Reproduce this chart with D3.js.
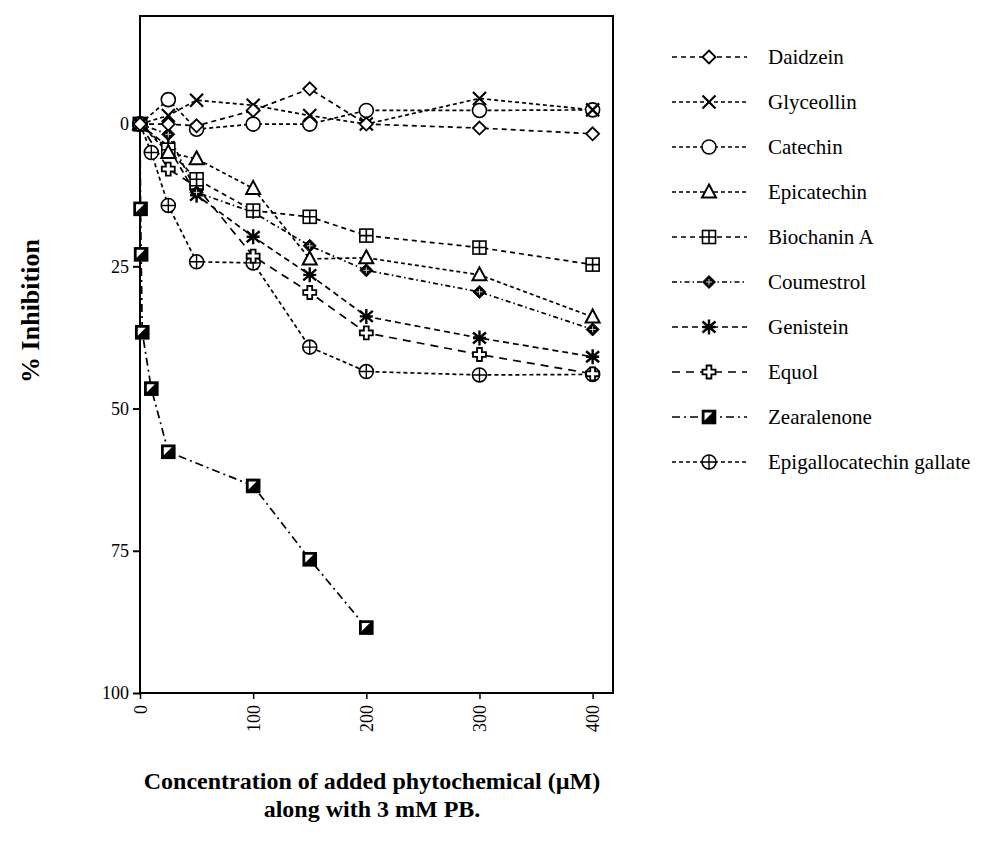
<!DOCTYPE html>
<html>
<head>
<meta charset="utf-8">
<script src="https://cdn.jsdelivr.net/npm/d3@7"></script>
<style>
  html, body { margin: 0; padding: 0; background: #fff; }
  svg { display: block; }
  text { font-family: "Liberation Serif", "Times New Roman", serif; fill: #000; }
</style>
</head>
<body>
<svg id="chart" width="1000" height="847"></svg>
<script>
// ---------- data ----------
const concentrations = [0, 25, 50, 100, 150, 200, 300, 400];
const daidzein    = [0, 0, 0.3, -2.4, -6.2, 0, 0.7, 1.7];
const glyceollin  = [0, -1.5, -4.2, -3.3, -1.5, 0, -4.5, -2.5];
const catechin    = [0, -4.3, 0.9, 0, 0, -2.4, -2.4, -2.5];
const epicatechin = [0, 5, 6.1, 11.3, 23.7, 23.5, 26.5, 33.9];
const biochaninA  = [0, 4.5, 9.7, 15.2, 16.3, 19.6, 21.7, 24.7];
const coumestrol  = [0, 1.8, 12, 15.5, 21.4, 25.7, 29.5, 36.1];
const genistein   = [0, 4, 12.5, 19.8, 26.5, 33.8, 37.6, 40.9];
const equol       = [0, 7.9, 11, 23.2, 29.6, 36.7, 40.5, 43.9];
const zearalenoneConc = [0, 0.5, 1, 2, 10, 25, 100, 150, 200];
const zearalenone     = [0, 14.9, 22.9, 36.6, 46.5, 57.6, 63.6, 76.5, 88.5];
const egcgConc = [0, 10, 25, 50, 100, 150, 200, 300, 400];
const egcg     = [0, 5, 14.3, 24.2, 24.4, 39.2, 43.5, 44.1, 44];

const seriesNames = ["Daidzein", "Glyceollin", "Catechin", "Epicatechin", "Biochanin A",
  "Coumestrol", "Genistein", "Equol", "Zearalenone", "Epigallocatechin gallate"];
const xTicks = [0, 100, 200, 300, 400];
const yTicks = [0, 25, 50, 75, 100];
const yTitle = "% Inhibition";
const xTitle1 = "Concentration of added phytochemical (\u00B5M)";
const xTitle2 = "along with 3 mM PB.";

// ---------- series definitions (style) ----------
const series = [
  { name: seriesNames[0], x: concentrations, y: daidzein,    marker: "diamond",  dash: "5,4" },
  { name: seriesNames[1], x: concentrations, y: glyceollin,  marker: "x",        dash: "4,3" },
  { name: seriesNames[2], x: concentrations, y: catechin,    marker: "circle",   dash: "4,3" },
  { name: seriesNames[3], x: concentrations, y: epicatechin, marker: "triangle", dash: "4,3" },
  { name: seriesNames[4], x: concentrations, y: biochaninA,  marker: "sqplus",   dash: "5,4" },
  { name: seriesNames[5], x: concentrations, y: coumestrol,  marker: "fdiamond", dash: "5,3,1.5,3" },
  { name: seriesNames[6], x: concentrations, y: genistein,   marker: "asterisk", dash: "6,4" },
  { name: seriesNames[7], x: concentrations, y: equol,       marker: "cross",    dash: "8,6" },
  { name: seriesNames[8], x: zearalenoneConc, y: zearalenone, marker: "halfsq", dash: "8,4,2,4" },
  { name: seriesNames[9], x: egcgConc, y: egcg,              marker: "cplus",    dash: "4,3" }
];

// ---------- layout ----------
const svg = d3.select("#chart");
const plot = { left: 140, right: 613, top: 16, bottom: 693 };
const x = d3.scaleLinear().domain([0, 418]).range([plot.left, plot.right]);
const y = d3.scaleLinear().domain([-19, 100]).range([plot.top, plot.bottom]);

// frame
svg.append("rect")
  .attr("x", plot.left).attr("y", plot.top)
  .attr("width", plot.right - plot.left).attr("height", plot.bottom - plot.top)
  .attr("fill", "none").attr("stroke", "#000").attr("stroke-width", 2);

// y axis
const yAxis = svg.append("g").attr("transform", `translate(${plot.left},0)`)
  .call(d3.axisLeft(y).tickValues(yTicks).tickSize(7).tickPadding(4).tickFormat(d3.format("d")));
yAxis.select(".domain").remove();
yAxis.selectAll("line").attr("stroke", "#000").attr("stroke-width", 2);
yAxis.selectAll("text").style("font-size", "18px").style("font-family", "Liberation Serif, serif");

// x axis
const xAxis = svg.append("g").attr("transform", `translate(0,${plot.bottom})`)
  .call(d3.axisBottom(x).tickValues(xTicks).tickSize(6).tickFormat(d3.format("d")));
xAxis.select(".domain").remove();
xAxis.selectAll("line").attr("stroke", "#000").attr("stroke-width", 1.5);
xAxis.selectAll("text")
  .style("font-size", "18px").style("font-family", "Liberation Serif, serif")
  .attr("transform", "rotate(-90)")
  .attr("x", -12).attr("y", 0).attr("dy", "0.35em")
  .attr("text-anchor", "end");

// titles
svg.append("text")
  .attr("transform", "translate(39,311) rotate(-90)")
  .attr("text-anchor", "middle")
  .style("font-size", "26px").style("font-weight", "bold")
  .text(yTitle);
svg.append("text").attr("x", 372).attr("y", 789).attr("text-anchor", "middle")
  .style("font-size", "24px").style("font-weight", "bold").text(xTitle1);
svg.append("text").attr("x", 372).attr("y", 817).attr("text-anchor", "middle")
  .style("font-size", "24px").style("font-weight", "bold").text(xTitle2);

// ---------- markers ----------
function drawMarker(g, type, cx, cy) {
  const m = g.append("g").attr("transform", `translate(${cx},${cy})`);
  const s = 6.5;
  const st = (sel, w) => sel.attr("stroke", "#000").attr("stroke-width", w || 1.6);
  switch (type) {
    case "diamond":
      st(m.append("path").attr("d", `M0,${-s}L${s},0L0,${s}L${-s},0Z`).attr("fill", "#fff"), 1.8);
      break;
    case "x":
      st(m.append("path").attr("d", `M${-s},${-s}L${s},${s}M${-s},${s}L${s},${-s}`).attr("fill", "none"), 2.2);
      break;
    case "circle":
      st(m.append("circle").attr("r", 7).attr("fill", "#fff"), 1.6);
      break;
    case "triangle":
      st(m.append("path").attr("d", `M0,${-s - 1}L${s + 0.5},${s - 1}L${-s - 0.5},${s - 1}Z`).attr("fill", "#fff"), 2);
      break;
    case "sqplus":
      st(m.append("rect").attr("x", -s).attr("y", -s).attr("width", 2 * s).attr("height", 2 * s).attr("fill", "#fff"), 1.6);
      st(m.append("path").attr("d", `M${-s},0L${s},0M0,${-s}L0,${s}`), 1.6);
      break;
    case "fdiamond":
      m.append("path").attr("d", `M0,${-s}L${s},0L0,${s}L${-s},0Z`).attr("fill", "#000").attr("stroke", "#000").attr("stroke-width", 1);
      m.append("path").attr("d", `M-3,0L3,0M0,-3L0,3`).attr("stroke", "#fff").attr("stroke-width", 0.8);
      break;
    case "asterisk":
      st(m.append("path").attr("d",
        `M0,${-s - 1}L0,${s + 1}M${-s},${-s + 1}L${s},${s - 1}M${-s},${s - 1}L${s},${-s + 1}M${-s},0L${s},0`).attr("fill", "none"), 2.4);
      break;
    case "cross": {
      const a = 2.4, b = 6.5;
      st(m.append("path").attr("d",
        `M${-a},${-b}L${a},${-b}L${a},${-a}L${b},${-a}L${b},${a}L${a},${a}L${a},${b}L${-a},${b}L${-a},${a}L${-b},${a}L${-b},${-a}L${-a},${-a}Z`)
        .attr("fill", "#fff"), 1.8);
      break;
    }
    case "halfsq":
      st(m.append("rect").attr("x", -s).attr("y", -s).attr("width", 2 * s).attr("height", 2 * s).attr("fill", "#000"), 1.6);
      m.append("path").attr("d", `M${-s + 2},${-s + 2}L${s - 3},${-s + 2}L${-s + 2},${s - 3}Z`).attr("fill", "#fff");
      break;
    case "cplus":
      st(m.append("circle").attr("r", 7).attr("fill", "#fff"), 1.6);
      st(m.append("path").attr("d", `M-7,0L7,0M0,-7L0,7`), 1.4);
      break;
  }
}

// ---------- lines and points ----------
const lineGen = d3.line().x(d => x(d[0])).y(d => y(d[1]));
const gLines = svg.append("g");
const gPts = svg.append("g");
series.forEach(s => {
  const pts = s.x.map((v, i) => [v, s.y[i]]);
  gLines.append("path").datum(pts)
    .attr("d", lineGen)
    .attr("fill", "none").attr("stroke", "#000").attr("stroke-width", 1.7)
    .attr("stroke-dasharray", s.dash);
});
series.slice().reverse().forEach(s => {
  s.x.forEach((v, i) => drawMarker(gPts, s.marker, x(v), y(s.y[i])));
});

// ---------- legend ----------
const legend = svg.append("g");
series.forEach((s, i) => {
  const ly = 57 + i * 45;
  legend.append("line").attr("x1", 672).attr("x2", 747).attr("y1", ly).attr("y2", ly)
    .attr("stroke", "#000").attr("stroke-width", 1.7).attr("stroke-dasharray", s.dash);
  drawMarker(legend, s.marker, 709, ly);
  legend.append("text").attr("x", 768).attr("y", ly).attr("dy", "0.32em")
    .style("font-size", "21px").text(s.name);
});
</script>
</body>
</html>
